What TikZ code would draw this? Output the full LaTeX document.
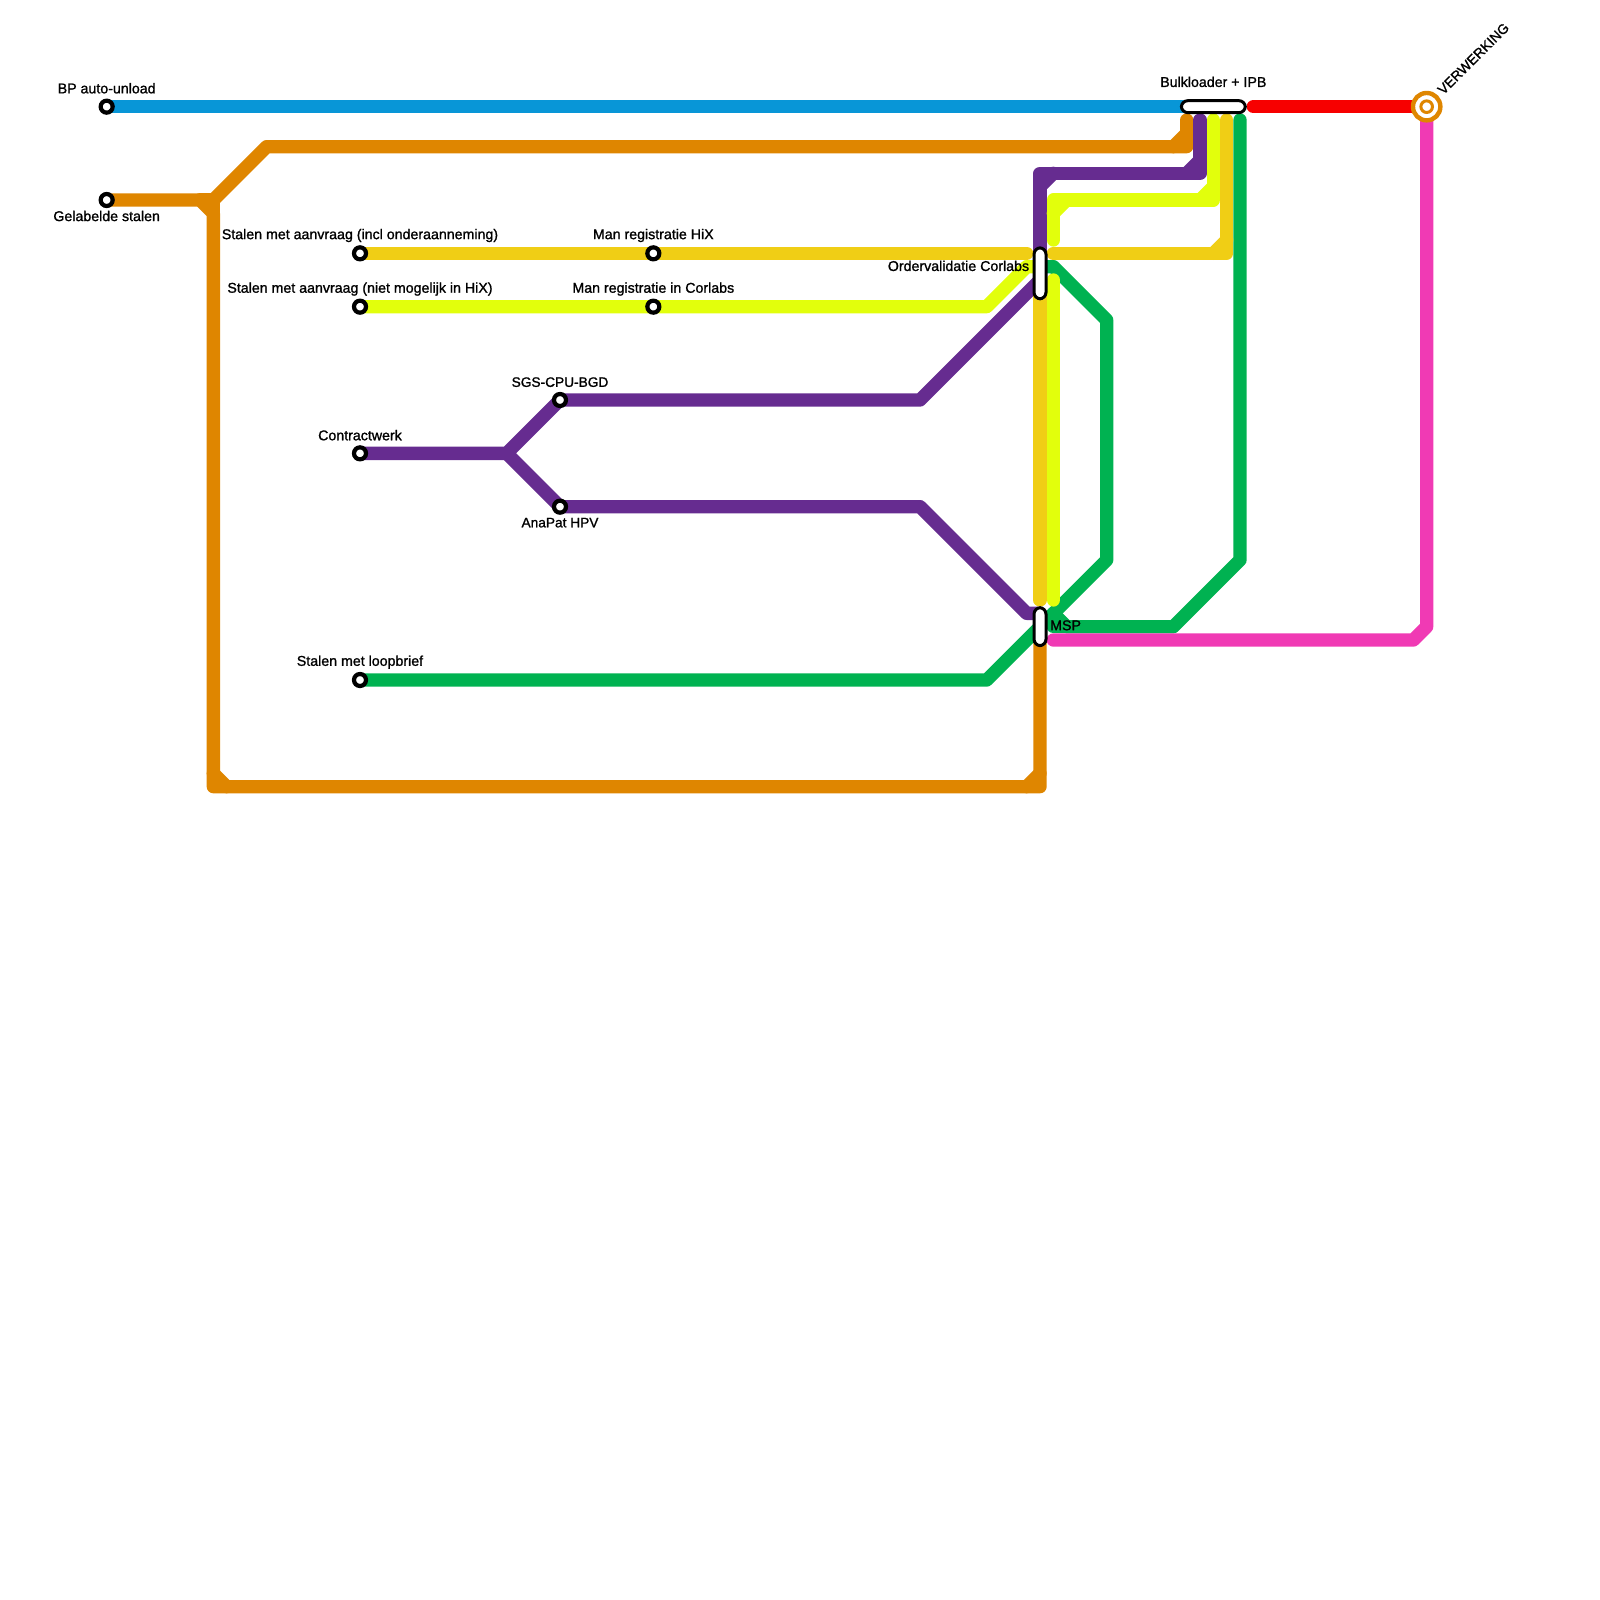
\documentclass[tikz,border=0pt]{standalone}
\usepackage{fontspec}
\setmainfont[FakeBold=1.2]{Liberation Sans}
\usetikzlibrary{backgrounds}
\definecolor{cblue}{HTML}{0896D7}
\definecolor{corange}{HTML}{DF8600}
\definecolor{cpurple}{HTML}{662C90}
\definecolor{cgold}{HTML}{F0CE15}
\definecolor{clime}{HTML}{E2FF0C}
\definecolor{cgreen}{HTML}{00B251}
\definecolor{cpink}{HTML}{F03AB4}
\definecolor{cred}{HTML}{F70000}
\tikzset{
  route/.style={line width=13.33pt,line cap=round,line join=round},
  stop/.style={circle,draw=black,fill=white,line width=4.2pt,minimum size=12pt,inner sep=0pt},
  hub/.style={draw=black,fill=white,line width=3pt,rounded corners=6.5pt,inner sep=0pt},
  lbl/.style={text=black,font=\fontsize{14.2pt}{16pt}\selectfont,inner sep=0pt},
}
\begin{document}
\begin{tikzpicture}[x=13.3333pt,y=-13.3333pt]
\useasboundingbox (0,0) rectangle (120,120);
% stations
\node[stop] (bp) at (8,8) {};
\node[stop] (gel) at (8,15) {};
\node[stop] (aanv) at (27,19) {};
\node[stop] (niet) at (27,23) {};
\node[stop] (hix) at (49,19) {};
\node[stop] (corl) at (49,23) {};
\node[stop] (sgs) at (42,30) {};
\node[stop] (contr) at (27,34) {};
\node[stop] (ana) at (42,38) {};
\node[stop] (loop) at (27,51) {};
\node[hub,minimum width=12pt,minimum height=51pt] (order) at (78,20.5) {};
\node[hub,minimum width=12pt,minimum height=38pt] (msp) at (78,47) {};
\node[hub,minimum width=64pt,minimum height=12pt] (bulk) at (91,8) {};
\node[circle,draw=corange,fill=white,line width=4.4pt,minimum size=27.4pt,inner sep=0pt] (verw) at (107,8) {};
\node[circle,draw=corange,line width=3pt,minimum size=11.6pt,inner sep=0pt] at (107,8) {};
% junctions and free ends
\coordinate (split) at (38,34);
\coordinate (orgTop) at (89,9);
\coordinate (purTop) at (90,9);
\coordinate (limTop) at (91,9);
\coordinate (golTop) at (92,9);
\coordinate (greTop) at (93,9);
\coordinate (redA) at (94,8);
\coordinate (pinkEnd) at (79,48);
\coordinate (ordL) at (77,19);
\coordinate (golL) at (79,19);
\coordinate (golV) at (78,22);
\coordinate (golVe) at (78,45);
\coordinate (limV) at (79,21);
\coordinate (limVe) at (79,45);
\coordinate (limS) at (79,18);
\begin{scope}[on background layer]
  % blue, red, pink
  \draw[route,cblue] (bp.center) -- (bulk.center);
  \draw[route,cred] (redA) -- (verw.center);
  % green
  \draw[route,cgreen] (loop.center) -- (74,51) -- (83,42) -- (83,24) -- (79,20) -- (78,20);
  \draw[route,cgreen] (79,46) -- (80,47) -- (88,47) -- (93,42) -- (greTop);
  \draw[route,cgreen] (79,47) -- (80,47);
  \draw[route,cpink] (verw.center) -- (107,47) -- (106,48) -- (pinkEnd);
  % orange
  \draw[route,corange] (gel.center) -- (15,15) -- (16,16) -- (16,59) -- (78,59) -- (msp.center);
  \draw[route,corange] (15,15) -- (16,15) -- (16,16);
  \draw[route,corange] (16,58) -- (17,59);
  \draw[route,corange] (77,59) -- (78,58);
  \draw[route,corange] (16,15) -- (20,11) -- (89,11) -- (orgTop);
  \draw[route,corange] (88,11) -- (89,10);
  % purple
  \draw[route,cpurple] (contr.center) -- (split) -- (sgs.center) -- (69,30) -- (78,21);
  \draw[route,cpurple] (split) -- (ana.center) -- (69,38) -- (77,46) -- (78,46);
  \draw[route,cpurple] (order.center) -- (78,13) -- (90,13) -- (purTop);
  \draw[route,cpurple] (78,14) -- (79,13);
  \draw[route,cpurple] (89,13) -- (90,12);
  % lime
  \draw[route,clime] (niet.center) -- (74,23) -- (77,20) -- (78,20);
  \draw[route,clime] (limV) -- (limVe);
  \draw[route,clime] (limS) -- (79,15) -- (91,15) -- (limTop);
  \draw[route,clime] (79,16) -- (80,15);
  \draw[route,clime] (90,15) -- (91,14);
  % gold
  \draw[route,cgold] (aanv.center) -- (ordL);
  \draw[route,cgold] (golV) -- (golVe);
  \draw[route,cgold] (golL) -- (92,19) -- (golTop);
  \draw[route,cgold] (91,19) -- (92,18);
\end{scope}
% labels
\node[lbl] (t1) at (8,6.62) {BP auto-unload};
\node[lbl] (t2) at (8,16.2) {Gelabelde stalen};
\node[lbl] (t3) at (27,17.66) {Stalen met aanvraag (incl onderaanneming)};
\node[lbl] (t4) at (27,21.68) {Stalen met aanvraag (niet mogelijk in HiX)};
\node[lbl] (t5) at (49,17.66) {Man registratie HiX};
\node[lbl] (t6) at (49,21.68) {Man registratie in Corlabs};
\node[lbl,font=\fontsize{13.7pt}{16pt}\selectfont] (t7) at (42,28.66) {SGS-CPU-BGD};
\node[lbl] (t8) at (27,32.64) {Contractwerk};
\node[lbl,font=\fontsize{13.7pt}{16pt}\selectfont] (t9) at (42,39.2) {AnaPat HPV};
\node[lbl] (t10) at (27,49.66) {Stalen met loopbrief};
\node[lbl,anchor=east] (t11) at (77.2,19.94) {Ordervalidatie Corlabs};
\node[lbl,anchor=west] (t12) at (78.75,46.9) {MSP};
\node[lbl] (t13) at (91,6.14) {Bulkloader + IPB};
\node[lbl,rotate=45,font=\fontsize{13.8pt}{16pt}\selectfont] (t14) at (110.5,4.4) {VERWERKING};
\end{tikzpicture}
\end{document}
